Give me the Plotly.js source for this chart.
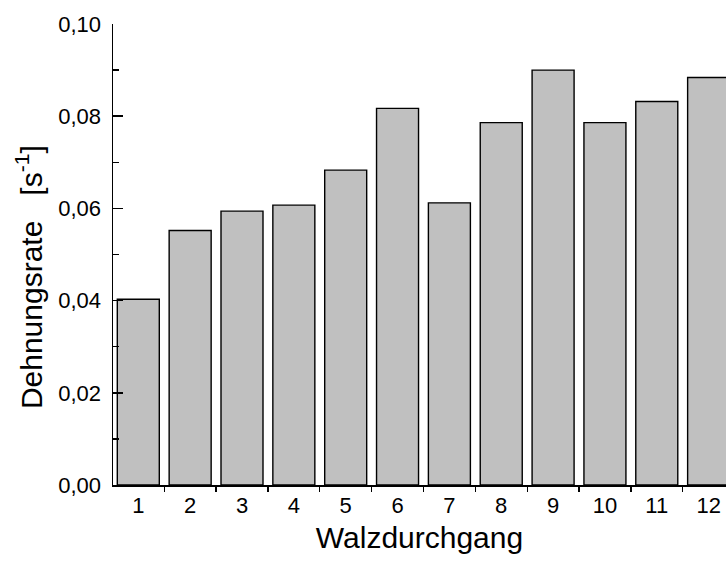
<!DOCTYPE html>
<html>
<head>
<meta charset="utf-8">
<script src="https://cdn.plot.ly/plotly-3.0.1.min.js"></script>
<style>
  html, body { margin: 0; padding: 0; background: #fff; overflow: hidden; }
  #chart { width: 726px; height: 562px; }
</style>
</head>
<body>
<div id="chart"></div>
<script>
// Walzdurchgang (rolling pass) numbers and the strain rate per pass
const passes = [1, 2, 3, 4, 5, 6, 7, 8, 9, 10, 11, 12];
const passLabels = ['1', '2', '3', '4', '5', '6', '7', '8', '9', '10', '11', '12'];
const strainRate = [0.0403, 0.0552, 0.0594, 0.0607, 0.0683, 0.0817,
                    0.0612, 0.0786, 0.0900, 0.0786, 0.0832, 0.0884];

// tick positions between passes and every half pass along the top edge
const boundaries = passes.slice(0, -1).map(p => p + 0.5);
const halfSteps = [];
for (let v = passes[0]; v <= passes[passes.length - 1] + 0.5; v += 0.5) halfSteps.push(v);

const xRange = [0.512, 12.335];
const family = 'Liberation Sans, Arial, sans-serif';
const tickFont = { family: family, size: 22, color: '#000' };
const titleFont = { family: family, size: 30, color: '#000' };

const bars = {
  type: 'bar',
  x: passes,
  y: strainRate,
  width: 0.81,
  marker: { color: '#c0c0c0', line: { color: '#000', width: 1.4 } },
  hoverinfo: 'x+y'
};

const layout = {
  width: 726,
  height: 562,
  margin: { l: 113, r: 0, t: 24, b: 77 },
  paper_bgcolor: '#fff',
  plot_bgcolor: '#fff',
  separators: ',.',
  showlegend: false,
  font: tickFont,
  xaxis: {
    range: xRange,
    tickmode: 'array',
    tickvals: passes,
    ticktext: passLabels,
    ticks: '',
    showgrid: false,
    zeroline: false,
    showline: true,
    linecolor: '#000',
    linewidth: 1.5,
    tickfont: tickFont,
    ticklabelstandoff: 0,
    minor: { tickmode: 'array', tickvals: boundaries, ticks: 'outside',
             ticklen: 5, tickwidth: 1.3, tickcolor: '#000', showgrid: false },
    title: { text: 'Walzdurchgang', font: titleFont, standoff: 10 }
  },
  xaxis2: {
    overlaying: 'x',
    anchor: 'y',
    side: 'bottom',
    range: xRange,
    tickmode: 'array',
    tickvals: boundaries,
    ticks: 'inside',
    ticklen: 3,
    tickwidth: 1.3,
    tickcolor: '#000',
    showticklabels: false,
    showline: false,
    showgrid: false,
    zeroline: false
  },
  xaxis3: {
    overlaying: 'x',
    anchor: 'y',
    side: 'top',
    range: xRange,
    tickmode: 'array',
    tickvals: halfSteps,
    ticks: 'inside',
    ticklen: 3,
    tickwidth: 1,
    tickcolor: '#000',
    showticklabels: false,
    showline: true,
    linecolor: '#000',
    linewidth: 1.5,
    showgrid: false,
    zeroline: false
  },
  yaxis: {
    range: [0, 0.10],
    tickmode: 'linear',
    tick0: 0,
    dtick: 0.02,
    tickformat: '.2f',
    ticks: 'inside',
    ticklen: 10,
    tickwidth: 1.5,
    tickcolor: '#000',
    showgrid: false,
    zeroline: false,
    showline: true,
    linecolor: '#000',
    linewidth: 1.5,
    tickfont: tickFont,
    ticklabelstandoff: 6,
    minor: { dtick: 0.01, ticks: 'inside', ticklen: 6, tickwidth: 1.3,
             tickcolor: '#000', showgrid: false }
  },
  annotations: [{
    // y-axis title, set a little below the middle of the axis
    text: 'Dehnungsrate&nbsp;&nbsp;&nbsp;[s<sup>-1</sup>]',
    xref: 'paper', yref: 'paper',
    x: -0.137, y: 0.451,
    xanchor: 'center', yanchor: 'middle',
    textangle: -90,
    showarrow: false,
    font: titleFont
  }]
};

Plotly.newPlot('chart', [bars], layout, { displayModeBar: false, staticPlot: true });
</script>
</body>
</html>
